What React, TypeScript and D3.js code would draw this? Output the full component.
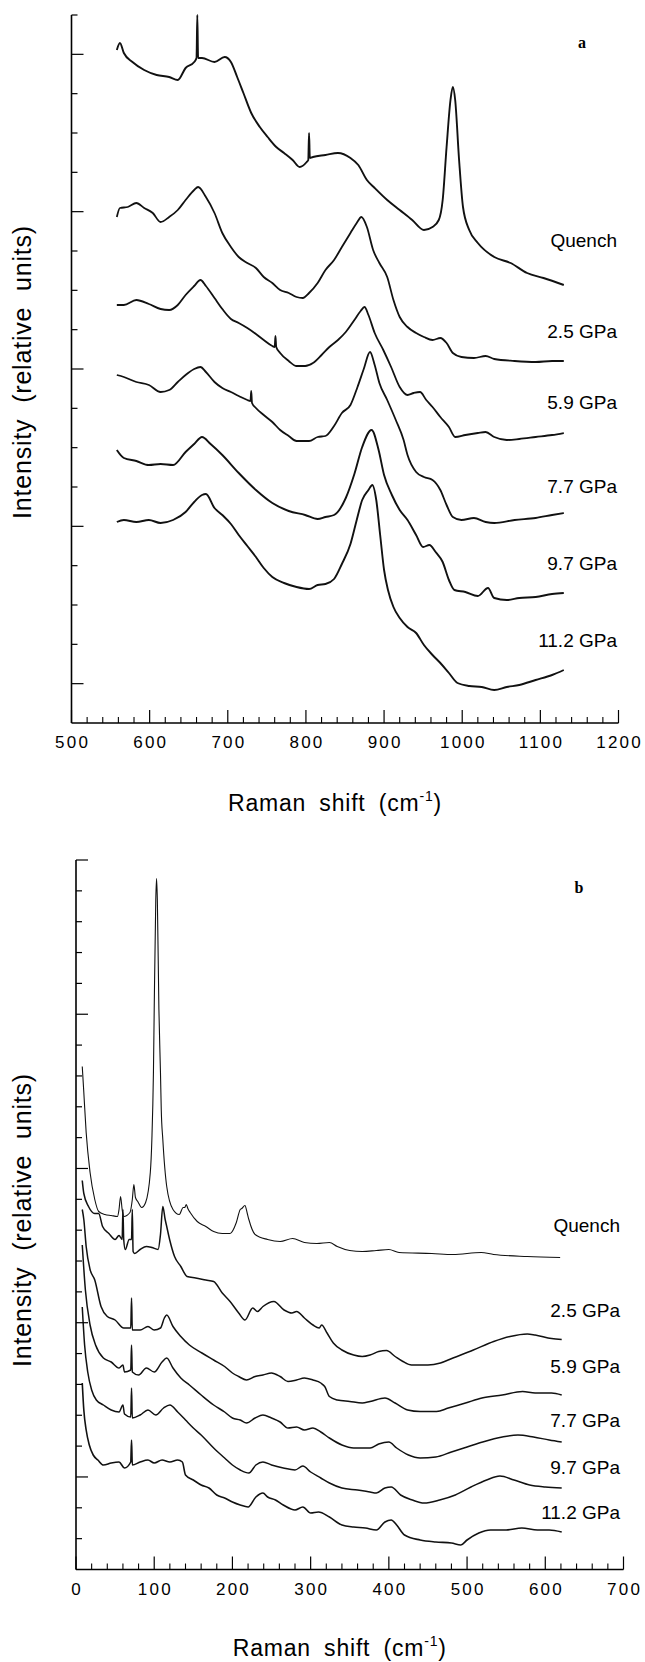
import React from 'react';
import * as d3 from 'd3';

type Pt = [number, number];

// ---------- Panel a (Raman shift 500-1200 cm-1) ----------
const A_X_TICKS = [500, 600, 700, 800, 900, 1000, 1100, 1200];
const A_LABELS = ['Quench', '2.5 GPa', '5.9 GPa', '7.7 GPa', '9.7 GPa', '11.2 GPa'];
const A_LABEL_Y = [483, 392, 321, 237, 160, 83];

const aQuench: Pt[] = [[558,673],[562,680],[567,670],[578,661],[593,653],[609,648],[625,646],[636,643],[646,655],[657,661],[660,665],[661,708],[662,665],[667,665],[683,661],[696,666],[704,661],[712,646],[720,630],[730,610],[741,596],[751,586],[762,576],[772,570],[783,563],[792,556],[801,561],[803,563],[804,590],[805,565],[809,566],[825,568],[841,570],[857,565],[867,558],[878,543],[888,535],[904,523],[920,513],[936,503],[951,493],[962,496],[970,503],[975,523],[980,576],[985,623],[988,636],[991,623],[996,563],[1001,516],[1009,493],[1020,480],[1041,466],[1062,460],[1083,450],[1104,445],[1130,438]];
const a25: Pt[] = [[558,506],[562,515],[572,516],[583,520],[593,515],[604,510],[614,501],[625,506],[636,513],[646,523],[657,533],[662,536],[672,526],[683,510],[693,490],[704,476],[714,466],[725,460],[736,455],[746,446],[757,440],[767,433],[778,430],[788,426],[796,425],[804,430],[815,440],[825,453],[836,463],[846,476],[857,490],[865,500],[871,506],[878,496],[886,473],[894,460],[904,446],[912,423],[920,406],[930,396],[941,390],[951,386],[962,383],[972,385],[980,380],[988,370],[999,366],[1015,365],[1030,367],[1041,364],[1067,362],[1094,361],[1115,362],[1130,362]];
const a59: Pt[] = [[558,418],[567,418],[583,423],[599,419],[614,414],[625,413],[636,418],[646,428],[657,437],[665,443],[672,437],[683,425],[693,414],[704,404],[714,400],[725,395],[736,389],[746,383],[757,377],[760,376],[761,387],[762,376],[767,370],[778,362],[788,357],[799,357],[809,360],[820,368],[830,376],[841,383],[851,391],[862,403],[870,412],[875,416],[880,408],[888,390],[899,373],[909,356],[920,336],[930,328],[938,330],[946,331],[954,323],[962,316],[972,306],[983,296],[991,286],[1004,288],[1020,290],[1030,291],[1041,286],[1057,283],[1073,284],[1094,286],[1115,288],[1130,290]];
const a77: Pt[] = [[558,348],[567,346],[583,341],[599,338],[614,331],[625,333],[636,341],[646,348],[657,354],[665,356],[672,351],[683,341],[693,335],[704,331],[714,327],[725,323],[729,322],[730,332],[731,320],[736,315],[746,308],[757,301],[767,293],[778,287],[788,282],[795,282],[804,282],[815,286],[825,287],[836,297],[846,310],[857,318],[866,336],[874,354],[882,371],[888,358],[894,340],[904,323],[915,303],[925,283],[930,268],[941,251],[951,246],[962,243],[972,233],[980,218],[988,206],[999,203],[1015,205],[1030,201],[1041,200],[1067,203],[1094,205],[1115,208],[1130,210]];
const a97: Pt[] = [[558,273],[567,265],[583,262],[599,258],[614,259],[630,258],[646,271],[657,279],[667,286],[678,279],[693,268],[714,250],[736,233],[757,220],[778,212],[799,208],[815,204],[825,206],[836,208],[851,225],[862,249],[872,276],[884,293],[893,273],[900,248],[910,228],[920,213],[930,203],[941,188],[950,176],[958,178],[966,171],[975,161],[983,143],[990,133],[1004,131],[1020,127],[1033,135],[1041,125],[1057,123],[1073,125],[1094,126],[1115,129],[1130,130]];
const a112: Pt[] = [[558,201],[567,203],[583,201],[599,203],[614,200],[630,203],[646,211],[657,221],[667,228],[672,229],[683,215],[693,208],[704,199],[714,188],[725,177],[736,166],[746,155],[757,146],[772,140],[788,136],[804,134],[815,138],[825,139],[836,144],[846,159],[857,179],[865,203],[872,223],[880,233],[885,238],[890,223],[895,188],[900,153],[905,133],[912,116],[920,105],[930,96],[941,90],[951,78],[962,68],[972,60],[983,50],[994,40],[1009,37],[1025,36],[1041,33],[1057,36],[1073,38],[1094,43],[1115,48],[1130,53]];

// ---------- Panel b (Raman shift 0-700 cm-1) ----------
const B_X_TICKS = [0, 100, 200, 300, 400, 500, 600, 700];
const B_LABELS = ['Quench', '2.5 GPa', '5.9 GPa', '7.7 GPa', '9.7 GPa', '11.2 GPa'];
const B_LABEL_Y = [344.5, 259.5, 203.5, 149.5, 102.5, 57.5];

const bQuench: Pt[] = [[8,503],[10,477],[13,437],[18,397],[24,370],[29,358],[37,355],[45,354],[53,353],[55,360],[57,373],[59,360],[61,353],[69,357],[72,370],[74,385],[76,372],[79,368],[84,362],[89,367],[95,397],[97,430],[99,497],[100,560],[102,670],[103,691],[104,670],[106,560],[108,497],[109,460],[111,430],[116,383],[124,360],[132,355],[137,362],[139,362],[141,365],[143,361],[146,357],[155,348],[166,343],[176,338],[187,336],[197,336],[205,347],[210,360],[212,361],[216,364],[219,356],[221,350],[229,335],[245,330],[261,328],[277,331],[292,327],[308,326],[324,327],[334,323],[350,319],[366,318],[384,319],[400,320],[413,317],[455,316],[482,315],[518,317],[534,315],[577,313],[619,312]];
const b25: Pt[] = [[8,389],[10,376],[16,363],[24,356],[29,356],[34,343],[42,336],[50,330],[55,334],[59,330],[60,360],[61,330],[63,320],[68,330],[71,330],[72,360],[73,318],[75,316],[82,320],[90,323],[97,322],[105,320],[108,335],[111,363],[114,350],[116,343],[120,329],[126,313],[134,303],[142,293],[153,291.5],[166,289.5],[176,288],[187,276.5],[197,268],[208,256.5],[216,249.5],[226,261.5],[232,258],[239,263],[253,268],[266,259.5],[276,256.5],[282,258],[292,251.5],[303,244.5],[311,241.5],[314,244.5],[321,236.5],[329,226.5],[340,219.5],[355,214.5],[366,213],[376,214.5],[387,218],[397,219],[408,213],[418,208],[429,204.5],[450,204.5],[466,206.5],[482,211.5],[508,219.5],[534,228],[555,233],[577,235.5],[587,234.5],[608,231],[621,230]];
const b59: Pt[] = [[8,360],[10,350],[13,323],[18,300],[24,289.5],[32,263],[40,253],[50,249.5],[61,241.5],[70,241.5],[71,271.5],[72,239.5],[82,239.5],[92,243],[100,239.5],[108,241.5],[113,251.5],[116,254.5],[124,243],[134,233],[145,224.5],[161,216.5],[176,209.5],[190,203],[200,196.5],[208,193],[218,189.5],[229,193],[239,194.5],[250,196.5],[261,193],[271,188],[282,189.5],[292,191.5],[303,189.5],[313,186.5],[318,183],[324,173],[334,169.5],[350,168],[366,166.5],[376,168],[395,171.5],[408,166.5],[424,159.5],[440,158],[461,158],[476,161.5],[498,166.5],[519,171.5],[545,174.5],[571,178],[587,176.5],[608,176.5],[621,174.5]];
const b77: Pt[] = [[8,324.5],[12,279.5],[18,244.5],[25,224.5],[35,211.5],[45,207.5],[55,201.5],[60,204.5],[62,197.5],[70,199.5],[71,224.5],[72,197.5],[80,194.5],[90,201.5],[100,197.5],[110,207.5],[116,211.5],[124,201.5],[134,191.5],[145,184.5],[160,174.5],[176,164.5],[190,157.5],[200,151.5],[210,149.5],[218,146.5],[229,151.5],[239,154.5],[250,151.5],[261,147.5],[271,141.5],[282,142.5],[292,139.5],[303,141.5],[313,137.5],[324,131.5],[340,124.5],[355,121.5],[376,121.5],[387,125.5],[400,127.5],[410,121.5],[425,114.5],[440,111.5],[460,112.5],[480,117.5],[500,122.5],[520,127.5],[545,132.5],[565,134.5],[585,132.5],[605,129.5],[621,127.5]];
const b97: Pt[] = [[8,262.5],[11,224.5],[15,197.5],[20,179.5],[26,169.5],[35,164.5],[45,159.5],[55,157.5],[60,164.5],[62,155.5],[70,152.5],[71,181.5],[72,151.5],[82,154.5],[92,159.5],[102,154.5],[112,161.5],[120,164.5],[130,157.5],[140,149.5],[150,141.5],[160,134.5],[176,121.5],[190,111.5],[200,104.5],[210,99.5],[221,96.5],[230,104.5],[239,107.5],[250,104.5],[265,101.5],[280,99.5],[290,103.5],[300,97.5],[313,91.5],[324,86.5],[340,81.5],[360,79.5],[376,77.5],[384,76.5],[395,81.5],[403,82.5],[415,74.5],[430,69.5],[445,66.5],[465,69.5],[485,74.5],[505,82.5],[525,89.5],[542,93.5],[560,89.5],[580,84.5],[600,82.5],[621,81.5]];
const b112: Pt[] = [[8,186.5],[10,159.5],[13,139.5],[17,124.5],[22,114.5],[28,109.5],[35,104.5],[45,106.5],[55,107.5],[62,101.5],[70,107.5],[71,129.5],[72,104.5],[82,107.5],[92,109.5],[100,106.5],[110,109.5],[120,107.5],[130,109.5],[136,107.5],[140,94.5],[150,89.5],[160,84.5],[170,81.5],[180,74.5],[190,71.5],[200,67.5],[210,64.5],[220,62.5],[230,72.5],[239,76.5],[245,72.5],[255,69.5],[265,64.5],[280,59.5],[290,62.5],[300,56.5],[310,57.5],[324,52.5],[340,44.5],[355,42.5],[370,41.5],[384,39.5],[395,47.5],[403,49.5],[410,44.5],[420,34.5],[440,29.5],[460,27.5],[480,26.5],[492,24.5],[500,29.5],[515,36.5],[530,39.5],[550,39.5],[570,41.5],[590,39.5],[605,39.5],[621,37.5]];

const FONT = '"Liberation Sans", Arial, Helvetica, sans-serif';

interface PanelProps {
  left: number; right: number; top: number; bottom: number;
  xDomain: [number, number]; yMax: number; nY: number; longEvery: number; longOffset: number;
  xTicks: number[]; series: Pt[][]; widths: number[];
  labels: string[]; labelY: number[]; labelX: number;
  letter: string; letterX: number; letterY: number;
  titleY: number; yTitleCenter: number;
}

function Panel(p: PanelProps) {
  const x = d3.scaleLinear().domain(p.xDomain).range([p.left, p.right]);
  const y = d3.scaleLinear().domain([0, p.yMax]).range([p.bottom, p.top]);
  const line = d3.line<Pt>().x(d => x(d[0])).y(d => y(d[1])).curve(d3.curveMonotoneX);
  const minor = d3.range(p.xDomain[0], p.xDomain[1] + 0.1, 20).filter(v => !p.xTicks.includes(v));
  const yTicks = d3.range(1, p.nY + 1).map(k => (k * p.yMax) / p.nY);
  const cx = (p.left + p.right) / 2;
  const LS = 2.2;
  return (
    <g>
      {p.series.map((s, i) => (
        <path key={i} d={line(s) || ''} fill="none" stroke="#111" strokeWidth={p.widths[i]} strokeLinejoin="round" />
      ))}
      <line x1={p.left} x2={p.left} y1={p.top} y2={p.bottom} stroke="#000" strokeWidth={1.6} />
      <line x1={p.left} x2={p.right} y1={p.bottom} y2={p.bottom} stroke="#000" strokeWidth={1.6} />
      {yTicks.map((v, k) => {
        const long = (k + 1 - p.longOffset) % p.longEvery === 0;
        return <line key={'y' + k} x1={p.left} x2={p.left + (long ? 12 : 6)} y1={y(v)} y2={y(v)} stroke="#000" strokeWidth={1.2} />;
      })}
      {p.xTicks.map(v => (
        <line key={'xt' + v} x1={x(v)} x2={x(v)} y1={p.bottom} y2={p.bottom - 13} stroke="#000" strokeWidth={1.2} />
      ))}
      {minor.map(v => (
        <line key={'xm' + v} x1={x(v)} x2={x(v)} y1={p.bottom} y2={p.bottom - 6} stroke="#000" strokeWidth={1.1} />
      ))}
      {p.xTicks.map(v => (
        <text key={'xl' + v} x={x(v) + LS / 2} y={p.bottom + 25} textAnchor="middle" fontFamily={FONT} fontSize={17} letterSpacing={LS} fill="#000">{v}</text>
      ))}
      <text x={cx - 10} y={p.titleY} textAnchor="middle" fontFamily={FONT} fontSize={23} letterSpacing={0.8} wordSpacing={6} fill="#000">
        Raman shift (cm<tspan dy={-10} fontSize={14}>-1</tspan><tspan dy={10}>)</tspan>
      </text>
      <text transform={`translate(31,${p.yTitleCenter}) rotate(-90)`} textAnchor="middle" fontFamily={FONT} fontSize={25} letterSpacing={0.8} wordSpacing={8} fill="#000">
        Intensity (relative units)
      </text>
      {p.labels.map((t, i) => (
        <text key={'sl' + i} x={p.labelX} y={y(p.labelY[i]) + 7} textAnchor="end" fontFamily={FONT} fontSize={19} fill="#000">{t}</text>
      ))}
      <text x={p.letterX} y={p.letterY} textAnchor="middle" fontFamily='"Liberation Serif", "DejaVu Serif", serif' fontWeight="bold" fontSize={16} fill="#000">{p.letter}</text>
    </g>
  );
}

export default function App() {
  return (
    <svg width={645} height={1662} style={{ position: 'absolute', left: 0, top: 0, background: '#fff' }}>
      <rect width={645} height={1662} fill="#fff" />
      <Panel left={71.5} right={618.5} top={15} bottom={723} xDomain={[500, 1200]} yMax={708} nY={18} longEvery={4} longOffset={1}
        xTicks={A_X_TICKS} series={[aQuench, a25, a59, a77, a97, a112]} widths={[1.9, 1.8, 1.8, 1.8, 1.9, 1.9]}
        labels={A_LABELS} labelY={A_LABEL_Y} labelX={617} letter="a" letterX={582} letterY={48}
        titleY={811} yTitleCenter={372} />
      <Panel left={76} right={623.5} top={860} bottom={1569.5} xDomain={[0, 700]} yMax={709.5} nY={23} longEvery={5} longOffset={3}
        xTicks={B_X_TICKS} series={[bQuench, b25, b59, b77, b97, b112]} widths={[1.1, 1.5, 1.5, 1.5, 1.5, 1.6]}
        labels={B_LABELS} labelY={B_LABEL_Y} labelX={620} letter="b" letterX={579} letterY={893}
        titleY={1656} yTitleCenter={1220} />
    </svg>
  );
}
